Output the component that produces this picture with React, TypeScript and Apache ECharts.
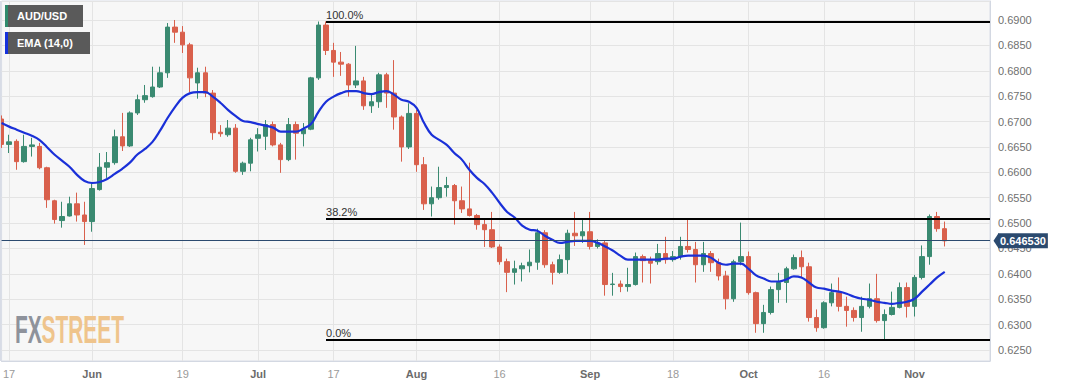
import React, { useEffect, useRef } from "react";
import * as echarts from "echarts";

const FONT = "'Liberation Sans', Arial, Helvetica, sans-serif";

// Trading days (weekdays) starting on the first (partly hidden) candle
const START_DATE = "2023-05-16";
const DAY_COUNT = 132; // includes empty slots on the right side of the plot

// AUD/USD daily candles: [open, close, low, high]
const candles: number[][] = [
  [0.6705, 0.6655, 0.6648, 0.6712], [0.6655, 0.6660, 0.6638, 0.6674], [0.6661, 0.6621, 0.6605, 0.6665],
  [0.6621, 0.6651, 0.6619, 0.6674], [0.6651, 0.6654, 0.6631, 0.6668], [0.6651, 0.6609, 0.6606, 0.6658],
  [0.6609, 0.6546, 0.6530, 0.6611], [0.6544, 0.6507, 0.6499, 0.6546], [0.6505, 0.6513, 0.6491, 0.6542],
  [0.6514, 0.6538, 0.6513, 0.6552], [0.6538, 0.6516, 0.6503, 0.6560], [0.6516, 0.6503, 0.6457, 0.6542],
  [0.6503, 0.6568, 0.6483, 0.6579], [0.6566, 0.6610, 0.6564, 0.6638], [0.6610, 0.6619, 0.6589, 0.6640],
  [0.6619, 0.6670, 0.6615, 0.6684], [0.6670, 0.6652, 0.6642, 0.6717], [0.6652, 0.6717, 0.6650, 0.6720],
  [0.6717, 0.6743, 0.6713, 0.6753], [0.6743, 0.6751, 0.6737, 0.6772], [0.6749, 0.6768, 0.6747, 0.6808],
  [0.6768, 0.6796, 0.6766, 0.6808], [0.6796, 0.6886, 0.6786, 0.6894], [0.6886, 0.6876, 0.6855, 0.6900],
  [0.6876, 0.6851, 0.6835, 0.6888], [0.6851, 0.6786, 0.6758, 0.6855], [0.6776, 0.6796, 0.6745, 0.6806],
  [0.6796, 0.6756, 0.6748, 0.6808], [0.6756, 0.6678, 0.6664, 0.6762], [0.6679, 0.6676, 0.6670, 0.6693],
  [0.6674, 0.6687, 0.6670, 0.6703], [0.6687, 0.6602, 0.6599, 0.6695], [0.6602, 0.6618, 0.6595, 0.6621],
  [0.6618, 0.6664, 0.6602, 0.6668], [0.6667, 0.6674, 0.6641, 0.6687], [0.6671, 0.6694, 0.6644, 0.6703],
  [0.6694, 0.6654, 0.6651, 0.6700], [0.6654, 0.6625, 0.6599, 0.6658], [0.6625, 0.6694, 0.6622, 0.6707],
  [0.6694, 0.6677, 0.6625, 0.6700], [0.6676, 0.6685, 0.6651, 0.6697], [0.6685, 0.6786, 0.6683, 0.6788],
  [0.6786, 0.6890, 0.6782, 0.6897], [0.6890, 0.6840, 0.6831, 0.6897], [0.6840, 0.6817, 0.6788, 0.6855],
  [0.6817, 0.6813, 0.6790, 0.6837], [0.6813, 0.6772, 0.6749, 0.6815], [0.6772, 0.6780, 0.6766, 0.6849],
  [0.6780, 0.6731, 0.6723, 0.6788], [0.6731, 0.6739, 0.6717, 0.6756], [0.6739, 0.6792, 0.6727, 0.6796],
  [0.6792, 0.6756, 0.6727, 0.6796], [0.6756, 0.6709, 0.6684, 0.6821], [0.6709, 0.6650, 0.6621, 0.6712],
  [0.6650, 0.6716, 0.6646, 0.6736], [0.6716, 0.6615, 0.6601, 0.6723], [0.6615, 0.6538, 0.6526, 0.6630],
  [0.6538, 0.6550, 0.6513, 0.6572], [0.6550, 0.6570, 0.6546, 0.6611], [0.6570, 0.6574, 0.6552, 0.6591],
  [0.6574, 0.6544, 0.6497, 0.6577], [0.6544, 0.6528, 0.6520, 0.6572], [0.6528, 0.6515, 0.6513, 0.6619],
  [0.6515, 0.6497, 0.6487, 0.6518], [0.6497, 0.6487, 0.6453, 0.6507], [0.6487, 0.6453, 0.6451, 0.6522],
  [0.6453, 0.6424, 0.6418, 0.6458], [0.6424, 0.6403, 0.6364, 0.6430], [0.6403, 0.6410, 0.6379, 0.6426],
  [0.6410, 0.6416, 0.6385, 0.6422], [0.6416, 0.6423, 0.6403, 0.6448], [0.6423, 0.6481, 0.6408, 0.6489],
  [0.6481, 0.6418, 0.6412, 0.6486], [0.6418, 0.6403, 0.6379, 0.6424], [0.6403, 0.6428, 0.6400, 0.6438],
  [0.6428, 0.6480, 0.6400, 0.6487], [0.6480, 0.6475, 0.6455, 0.6522], [0.6475, 0.6483, 0.6461, 0.6509],
  [0.6483, 0.6454, 0.6448, 0.6522], [0.6454, 0.6461, 0.6450, 0.6468], [0.6461, 0.6379, 0.6357, 0.6465],
  [0.6379, 0.6380, 0.6357, 0.6402], [0.6380, 0.6375, 0.6364, 0.6387], [0.6375, 0.6379, 0.6365, 0.6412],
  [0.6379, 0.6434, 0.6377, 0.6442], [0.6434, 0.6426, 0.6383, 0.6438], [0.6426, 0.6421, 0.6381, 0.6434],
  [0.6424, 0.6440, 0.6418, 0.6459], [0.6440, 0.6428, 0.6420, 0.6473], [0.6428, 0.6434, 0.6424, 0.6445],
  [0.6434, 0.6454, 0.6428, 0.6473], [0.6454, 0.6448, 0.6442, 0.6509], [0.6448, 0.6418, 0.6383, 0.6463],
  [0.6418, 0.6440, 0.6404, 0.6463], [0.6440, 0.6422, 0.6404, 0.6445], [0.6422, 0.6396, 0.6387, 0.6430],
  [0.6396, 0.6351, 0.6330, 0.6406], [0.6351, 0.6424, 0.6345, 0.6428], [0.6424, 0.6434, 0.6417, 0.6501],
  [0.6434, 0.6363, 0.6359, 0.6444], [0.6363, 0.6302, 0.6284, 0.6365], [0.6302, 0.6324, 0.6284, 0.6339],
  [0.6324, 0.6369, 0.6320, 0.6375], [0.6369, 0.6383, 0.6343, 0.6402], [0.6383, 0.6410, 0.6343, 0.6414],
  [0.6410, 0.6432, 0.6408, 0.6438], [0.6432, 0.6414, 0.6392, 0.6446], [0.6414, 0.6314, 0.6306, 0.6422],
  [0.6314, 0.6294, 0.6286, 0.6330], [0.6294, 0.6343, 0.6292, 0.6346], [0.6343, 0.6363, 0.6336, 0.6381],
  [0.6363, 0.6336, 0.6326, 0.6393], [0.6336, 0.6328, 0.6296, 0.6355], [0.6328, 0.6314, 0.6306, 0.6334],
  [0.6314, 0.6336, 0.6286, 0.6355], [0.6336, 0.6351, 0.6332, 0.6381], [0.6351, 0.6308, 0.6304, 0.6400],
  [0.6308, 0.6320, 0.6270, 0.6330], [0.6320, 0.6334, 0.6318, 0.6365], [0.6334, 0.6373, 0.6332, 0.6383],
  [0.6373, 0.6336, 0.6314, 0.6383], [0.6336, 0.6393, 0.6316, 0.6398], [0.6393, 0.6434, 0.6389, 0.6456],
  [0.6434, 0.6513, 0.6418, 0.6517], [0.6513, 0.6489, 0.6483, 0.6522], [0.6489, 0.6465, 0.6454, 0.6503],
];

// EMA(14,0)
const ema14: number[] = [
  0.6697, 0.6690, 0.6684, 0.6678, 0.6672, 0.6664, 0.6650, 0.6635, 0.6623, 0.6611,
  0.6595, 0.6583, 0.6579, 0.6581, 0.6587, 0.6597, 0.6607, 0.6619, 0.6635, 0.6646,
  0.6660, 0.6682, 0.6707, 0.6729, 0.6747, 0.6756, 0.6758, 0.6758, 0.6749, 0.6737,
  0.6723, 0.6711, 0.6701, 0.6699, 0.6695, 0.6692, 0.6688, 0.6680, 0.6680, 0.6680,
  0.6686, 0.6695, 0.6719, 0.6739, 0.6749, 0.6756, 0.6760, 0.6760, 0.6756, 0.6754,
  0.6758, 0.6760, 0.6753, 0.6743, 0.6739, 0.6727, 0.6697, 0.6674, 0.6664, 0.6654,
  0.6638, 0.6625, 0.6605, 0.6589, 0.6577, 0.6560, 0.6540, 0.6522, 0.6511, 0.6495,
  0.6487, 0.6485, 0.6475, 0.6467, 0.6461, 0.6463, 0.6465, 0.6465, 0.6465, 0.6461,
  0.6454, 0.6446, 0.6436, 0.6428, 0.6428, 0.6428, 0.6428, 0.6428, 0.6430, 0.6430,
  0.6434, 0.6436, 0.6436, 0.6436, 0.6432, 0.6422, 0.6418, 0.6420, 0.6420, 0.6410,
  0.6397, 0.6391, 0.6385, 0.6385, 0.6389, 0.6395, 0.6393, 0.6383, 0.6373, 0.6371,
  0.6367, 0.6365, 0.6361, 0.6355, 0.6351, 0.6349, 0.6345, 0.6343, 0.6341, 0.6343,
  0.6345, 0.6351, 0.6365, 0.6379, 0.6393, 0.6404,
];

// x-axis tick labels (date -> text)
const xTickDates = ["2023-05-17", "2023-06-01", "2023-06-19", "2023-07-03", "2023-07-17", "2023-08-01",
  "2023-08-16", "2023-09-01", "2023-09-18", "2023-10-02", "2023-10-16", "2023-11-01"];
const xTickTexts = ["17", "Jun", "19", "Jul", "17", "Aug", "16", "Sep", "18", "Oct", "16", "Nov"];

// Fibonacci retracement
const fibStartDate = "2023-07-14";
const fibLabels = ["100.0%", "38.2%", "0.0%"];
const fibValues = [0.6897, 0.6509, 0.6270];

const lastPrice = 0.64653;
const lastPriceText = "0.646530";

const Y_MIN = 0.62284;
const Y_MAX = 0.69374;

const UP = "#3a8a71";
const DOWN = "#d9604c";
const TAG = "#2b4a6f";

function weekdays(start: string, n: number): string[] {
  const out: string[] = [];
  const d = new Date(start + "T00:00:00Z");
  while (out.length < n) {
    const wd = d.getUTCDay();
    if (wd !== 0 && wd !== 6) out.push(d.toISOString().slice(0, 10));
    d.setUTCDate(d.getUTCDate() + 1);
  }
  return out;
}

export default function App() {
  const ref = useRef<HTMLDivElement>(null);
  useEffect(() => {
    const el = ref.current!;
    const chart = echarts.init(el, undefined, { renderer: "svg" });
    const dates = weekdays(START_DATE, DAY_COUNT);
    const lastDate = dates[dates.length - 1];
    const tickMap = new Map<string, string>();
    xTickDates.forEach((d, i) => tickMap.set(d, xTickTexts[i]));
    const isTick = (_i: number, v: string) => tickMap.has(v);

    const fibMarks = fibValues.map((v, i) => [
      {
        coord: [fibStartDate, v],
        label: {
          show: true,
          formatter: fibLabels[i],
          position: "insideStartTop",
          distance: [0, 1],
          color: "#333",
          fontSize: 11,
          fontFamily: FONT,
        },
        lineStyle: { color: "#000", width: 2, type: "solid" },
      },
      { coord: [lastDate, v] },
    ]);

    const priceMark = [
      {
        coord: [dates[0], lastPrice],
        lineStyle: { color: TAG, width: 1, type: "solid" },
        label: {
          show: true,
          position: "end",
          distance: 8,
          formatter: lastPriceText,
          color: "#fff",
          backgroundColor: TAG,
          fontWeight: "bold",
          fontSize: 11,
          fontFamily: FONT,
          padding: [2, 2, 2, 2],
        },
      },
      { coord: [lastDate, lastPrice] },
    ];

    const baseGraphic: any[] = [
      { type: "line", id: "lborder", shape: { x1: 0.5, y1: 1, x2: 0.5, y2: 361 }, style: { stroke: "#d8dce6", lineWidth: 1 }, z: 50 },
      { type: "rect", id: "lg1", shape: { x: 5, y: 5, width: 78, height: 22 }, style: { fill: "#5a5a5a" }, z: 100 },
      { type: "rect", id: "lg1s", shape: { x: 5, y: 5, width: 3, height: 22 }, style: { fill: "#2f8a6c" }, z: 101 },
      { type: "text", id: "lg1t", x: 17, y: 16, style: { text: "AUD/USD", fill: "#fff", font: `bold 11px ${FONT}`, verticalAlign: "middle" }, z: 101 },
      { type: "rect", id: "lg2", shape: { x: 5, y: 32, width: 85, height: 22 }, style: { fill: "#5a5a5a" }, z: 100 },
      { type: "rect", id: "lg2s", shape: { x: 5, y: 32, width: 3, height: 22 }, style: { fill: "#1531dc" }, z: 101 },
      { type: "text", id: "lg2t", x: 17, y: 43, style: { text: "EMA (14,0)", fill: "#fff", font: `bold 11px ${FONT}`, verticalAlign: "middle" }, z: 101 },
      { type: "text", id: "wm1", x: 15, y: 329, scaleX: 0.55, style: { text: "FX", fill: "#8e929b", font: `bold 38px ${FONT}`, verticalAlign: "middle" }, z: 1 },
      { type: "text", id: "wm2", x: 41.5, y: 329, scaleX: 0.55, style: { text: "STREET", fill: "#efc48c", font: `bold 38px ${FONT}`, verticalAlign: "middle" }, z: 1 },
    ];

    const option: any = {
      animation: false,
      backgroundColor: "#ffffff",
      textStyle: { fontFamily: FONT },
      grid: {
        show: true,
        left: -1.6,
        right: 77,
        top: 1,
        bottom: 25,
        backgroundColor: "#f7f7f7",
        borderColor: "#d8dce6",
        borderWidth: 1,
      },
      xAxis: {
        type: "category",
        data: dates,
        boundaryGap: false,
        axisLine: { show: true, lineStyle: { color: "#d3d8e2" } },
        axisTick: { show: false },
        axisLabel: {
          interval: isTick,
          margin: 7,
          formatter: (v: string) => {
            const t = tickMap.get(v) || "";
            return /^\d+$/.test(t) ? `{d|${t}}` : `{m|${t}}`;
          },
          rich: {
            d: { color: "#9a9a9a", fontSize: 11, fontFamily: FONT },
            m: { color: "#6b6b6b", fontSize: 11, fontWeight: "bold", fontFamily: FONT },
          },
        },
        splitLine: { show: true, interval: isTick, lineStyle: { color: "#e4e4e4", width: 1 } },
      },
      yAxis: {
        type: "value",
        position: "right",
        min: Y_MIN,
        max: Y_MAX,
        splitNumber: 14,
        minInterval: 0.005,
        maxInterval: 0.005,
        axisLine: { show: true, lineStyle: { color: "#d3d8e2" } },
        axisTick: { show: false },
        axisLabel: {
          color: "#707070",
          fontSize: 11,
          margin: 8,
          fontFamily: FONT,
          showMinLabel: false,
          showMaxLabel: false,
          formatter: (v: number) => v.toFixed(4),
        },
        splitLine: { show: true, lineStyle: { color: "#e4e4e4", width: 1 } },
      },
      series: [
        {
          type: "candlestick",
          name: "AUD/USD",
          data: candles,
          barWidth: 5,
          itemStyle: { color: UP, color0: DOWN, borderColor: UP, borderColor0: DOWN, borderWidth: 1 },
          markLine: {
            silent: true,
            symbol: ["none", "none"],
            animation: false,
            data: [...fibMarks, priceMark],
          },
        },
        {
          type: "line",
          name: "EMA (14,0)",
          data: ema14,
          smooth: 0.4,
          showSymbol: false,
          symbol: "none",
          lineStyle: { color: "#1a30d8", width: 2.2 },
          z: 3,
        },
      ],
      graphic: { elements: baseGraphic },
    };
    chart.setOption(option);
    const py = chart.convertToPixel({ yAxisIndex: 0 }, lastPrice) as number;
    chart.setOption({
      graphic: {
        elements: [
          ...baseGraphic,
          {
            type: "polygon",
            id: "tagArrow",
            shape: { points: [[993.5, py], [998.5, py - 7.5], [998.5, py + 7.5]] },
            style: { fill: TAG },
            z: 100,
          },
        ],
      },
    });
    return () => chart.dispose();
  }, []);
  return (
    <div
      ref={ref}
      style={{ position: "absolute", left: 0, top: 0, width: 1067, height: 386, background: "#fff" }}
    />
  );
}
